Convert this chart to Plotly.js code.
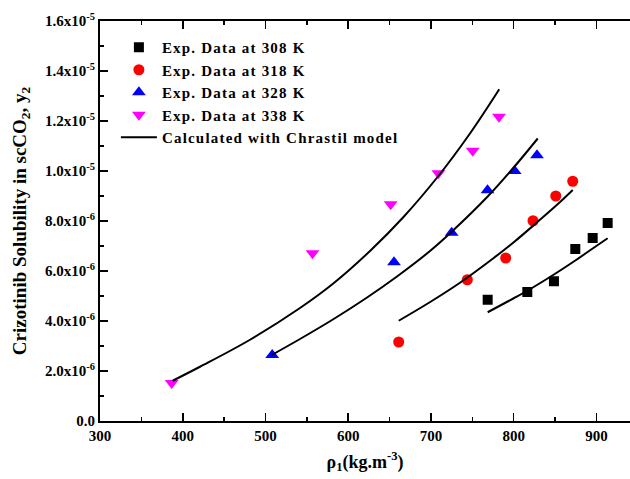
<!DOCTYPE html>
<html>
<head>
<meta charset="utf-8">
<script src="https://cdn.plot.ly/plotly-3.0.1.min.js"></script>
<style>
html,body{margin:0;padding:0;overflow:hidden;background:#fff;}
#chart{width:630px;height:479px;}
.legendtext{letter-spacing:1.2px;}
</style>
</head>
<body>
<div id="chart"></div>
<script>
// Experimental data (density kg/m3, solubility mole fraction)
const rho308 = [768.5, 816.4, 848.6, 874.4, 895.4, 913.5];
const y308   = [4.85e-6, 5.16e-6, 5.59e-6, 6.88e-6, 7.32e-6, 7.92e-6];
const rho318 = [661, 743.9, 790.3, 823.3, 850.8, 871.3];
const y318   = [3.16e-6, 5.65e-6, 6.52e-6, 8.01e-6, 9.0e-6, 9.59e-6];
const rho328 = [508.1, 655.3, 725, 768.3, 801.1, 828.1];
const y328   = [2.64e-6, 6.35e-6, 7.53e-6, 9.23e-6, 10.0e-6, 10.63e-6];
const rho338 = [386.6, 556.8, 651.3, 708.9, 750.4, 782.2];
const y338   = [1.52e-6, 6.71e-6, 8.67e-6, 9.91e-6, 10.81e-6, 12.17e-6];

// Chrastil model curves
const calcRho308 = [768.5, 800, 816.4, 848.6, 874.4, 895.4, 913.5];
const calcY308   = [4.35e-6, 4.91e-6, 5.21e-6, 5.86e-6, 6.42e-6, 6.9e-6, 7.31e-6];
const calcRho318 = [661, 700, 735, 775, 800, 830, 856, 871.3];
const calcY318   = [4.01e-6, 4.78e-6, 5.53e-6, 6.5e-6, 7.15e-6, 8.0e-6, 8.76e-6, 9.24e-6];
const calcRho328 = [507.5, 541.7, 581.9, 622.3, 658.5, 698.8, 725, 768.5, 800.7, 829];
const calcY328   = [2.64e-6, 3.28e-6, 4.07e-6, 4.93e-6, 5.77e-6, 6.8e-6, 7.57e-6, 8.98e-6, 10.17e-6, 11.3e-6];
const calcRho338 = [387.8, 420.8, 481.3, 541.7, 581.9, 626.3, 666.5, 708.9, 747.1, 782.5];
const calcY338   = [1.61e-6, 2.17e-6, 3.25e-6, 4.52e-6, 5.5e-6, 6.8e-6, 8.15e-6, 9.8e-6, 11.5e-6, 13.27e-6];

// Axis ticks
const yTickVals = [0, 2e-6, 4e-6, 6e-6, 8e-6, 1e-5, 1.2e-5, 1.4e-5, 1.6e-5];
const yTickText = ['0.0', '2.0x10<sup>-6</sup>', '4.0x10<sup>-6</sup>', '6.0x10<sup>-6</sup>', '8.0x10<sup>-6</sup>',
                   '1.0x10<sup>-5</sup>', '1.2x10<sup>-5</sup>', '1.4x10<sup>-5</sup>', '1.6x10<sup>-5</sup>'];
const xTickVals = [300, 400, 500, 600, 700, 800, 900];

const legendNames = ['Exp. Data at 308 K', 'Exp. Data at 318 K', 'Exp. Data at 328 K', 'Exp. Data at 338 K', 'Calculated with Chrastil model'];

const FONT = 'Liberation Serif, Times New Roman, serif';

const traces = [
  {x: rho308, y: y308, mode: 'markers', type: 'scatter', name: legendNames[0],
   marker: {symbol: 'square', size: 10, color: '#000000'}},
  {x: rho318, y: y318, mode: 'markers', type: 'scatter', name: legendNames[1],
   marker: {symbol: 'circle', size: 11, color: '#ff0000'}},
  {x: rho328, y: y328, mode: 'markers', type: 'scatter', name: legendNames[2],
   marker: {symbol: 'triangle-up', size: 12, color: '#0000ff'}},
  {x: rho338, y: y338, mode: 'markers', type: 'scatter', name: legendNames[3],
   marker: {symbol: 'triangle-down', size: 12, color: '#ff00ff'}},
  {x: calcRho308, y: calcY308, mode: 'lines', type: 'scatter', name: legendNames[4],
   line: {color: '#000', width: 2, shape: 'spline'}, showlegend: true},
  {x: calcRho318, y: calcY318, mode: 'lines', type: 'scatter', name: legendNames[4],
   line: {color: '#000', width: 2, shape: 'spline'}, showlegend: false},
  {x: calcRho328, y: calcY328, mode: 'lines', type: 'scatter', name: legendNames[4],
   line: {color: '#000', width: 2, shape: 'spline'}, showlegend: false},
  {x: calcRho338, y: calcY338, mode: 'lines', type: 'scatter', name: legendNames[4],
   line: {color: '#000', width: 2, shape: 'spline'}, showlegend: false}
];

const layout = {
  width: 630, height: 479,
  margin: {l: 100, r: 0, t: 21, b: 58, pad: 0},
  paper_bgcolor: '#fff', plot_bgcolor: '#fff',
  font: {family: FONT, size: 15, color: '#000', weight: 'bold'},
  showlegend: true,
  legend: {x: 0.03, y: 0.975, xanchor: 'left', yanchor: 'top', bgcolor: 'rgba(0,0,0,0)',
           itemwidth: 36,
           font: {family: FONT, size: 15, color: '#000', weight: 'bold'}, tracegroupgap: 0},
  xaxis: {
    range: [300, 940.5], tickmode: 'array', tickvals: xTickVals,
    ticks: 'inside', ticklen: 8, tickwidth: 1.5, tickcolor: '#000',
    showline: true, linecolor: '#000', linewidth: 2, mirror: 'ticks',
    showgrid: false, zeroline: false,
    tickfont: {family: FONT, size: 15, color: '#000', weight: 'bold'},
    minor: {dtick: 50, tick0: 300, ticks: 'inside', ticklen: 4, tickwidth: 1.5, tickcolor: '#000', showgrid: false},
    title: {text: 'ρ<sub>1</sub>(kg.m<sup>-3</sup>)', standoff: 12,
            font: {family: FONT, size: 18, color: '#000', weight: 'bold'}}
  },
  yaxis: {
    range: [0, 1.6e-5], tickmode: 'array', tickvals: yTickVals, ticktext: yTickText,
    ticks: 'inside', ticklen: 8, tickwidth: 1.5, tickcolor: '#000',
    showline: true, linecolor: '#000', linewidth: 2, mirror: false,
    showgrid: false, zeroline: false,
    tickfont: {family: FONT, size: 15, color: '#000', weight: 'bold'},
    minor: {dtick: 1e-6, tick0: 0, ticks: 'inside', ticklen: 4, tickwidth: 1.5, tickcolor: '#000', showgrid: false},
    title: {text: 'Crizotinib Solubility in scCO<sub>2</sub>, y<sub>2</sub>', standoff: 13,
            font: {family: FONT, size: 19, color: '#000', weight: 'bold'}}
  }
};

Plotly.newPlot('chart', traces, layout, {displayModeBar: false, staticPlot: true});
</script>
</body>
</html>
